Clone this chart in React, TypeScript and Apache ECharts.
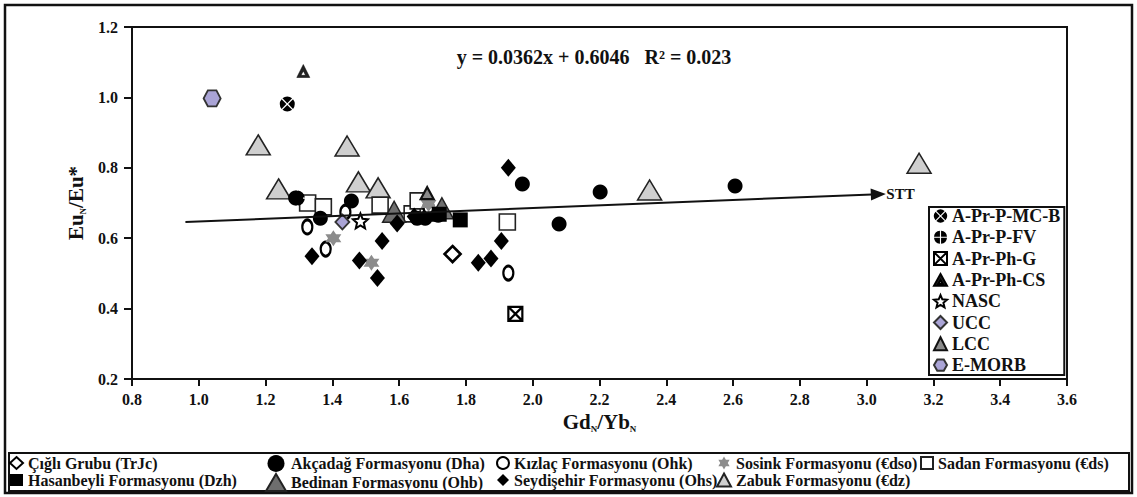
import React, { useEffect, useRef } from 'react';
import * as echarts from 'echarts';

const FONT = '"Liberation Serif","Times New Roman",serif';
const INK = '#111';
const LAV = '#aaa4d6';

// axis ranges / ticks
const xRange = { min: 0.8, max: 3.6, interval: 0.2 };
const yRange = { min: 0.2, max: 1.2, interval: 0.2 };

// sample groups [Gd_N/Yb_N, Eu_N/Eu*]
const cigli = [[1.76, 0.555]];
const hasanbeyli = [[1.783, 0.652], [1.72, 0.668]];
const akcadag = [[1.29, 0.714], [1.364, 0.657], [1.457, 0.706], [1.654, 0.657], [1.678, 0.657], [1.717, 0.665], [1.969, 0.754], [2.079, 0.64], [2.202, 0.731], [2.606, 0.748]];
const bedinan = [[1.585, 0.675], [1.728, 0.685]];
const kizlac = [[1.325, 0.632], [1.38, 0.569], [1.439, 0.674], [1.688, 0.688], [1.927, 0.501]];
const seydisehir = [[1.339, 0.549], [1.481, 0.537], [1.535, 0.487], [1.549, 0.592], [1.594, 0.642], [1.645, 0.662], [1.837, 0.53], [1.875, 0.542], [1.906, 0.592], [1.927, 0.8]];
const sosink = [[1.403, 0.6], [1.517, 0.53], [1.688, 0.697]];
const zabuk = [[1.178, 0.865], [1.239, 0.74], [1.444, 0.862], [1.478, 0.76], [1.537, 0.743], [2.35, 0.737], [3.157, 0.813]];
const sadan = [[1.326, 0.7], [1.373, 0.689], [1.543, 0.694], [1.639, 0.669], [1.657, 0.706], [1.924, 0.646]];

// reference compositions
const mcB = [[1.265, 0.981]];
const fv = [[1.295, 0.714]];
const phG = [[1.948, 0.385]];
const phCS = [[1.313, 1.075]];
const nasc = [[1.484, 0.649]];
const ucc = [[1.43, 0.646]];
const lcc = [[1.684, 0.728]];
const eMorb = [[1.04, 0.997]];

// trend arrow (STT)
const sttLine = [[0.96, 0.646], [3.035, 0.725]];
const equation = 'y = 0.0362x + 0.6046   R² = 0.023';

const refNames = ['A-Pr-P-MC-B', 'A-Pr-P-FV', 'A-Pr-Ph-G', 'A-Pr-Ph-CS', 'NASC', 'UCC', 'LCC', 'E-MORB'];
const legendCols = [
  ['Çığlı Grubu (TrJc)', 'Hasanbeyli Formasyonu (Dzh)'],
  ['Akçadağ Formasyonu (Dha)', 'Bedinan Formasyonu (Ohb)'],
  ['Kızlaç Formasyonu (Ohk)', 'Seydişehir Formasyonu (Ohs)'],
  ['Sosink Formasyonu (€dso)', 'Zabuk Formasyonu (€dz)'],
  ['Sadan Formasyonu (€ds)'],
];

const HEX = 'path://M-10,0 L-5,-8.66 L5,-8.66 L10,0 L5,8.66 L-5,8.66 Z';
const STAR6 = 'path://M0,-10 L2.89,-5 L8.66,-5 L5.77,0 L8.66,5 L2.89,5 L0,10 L-2.89,5 L-8.66,5 L-5.77,0 L-8.66,-5 L-2.89,-5 Z';
const STAR5 = 'path://M0,-10 L2.65,-3.64 L9.51,-3.09 L4.28,1.39 L5.88,8.09 L0,4.5 L-5.88,8.09 L-4.28,1.39 L-9.51,-3.09 L-2.65,-3.64 Z';
const CIRC_X = 'path://M0,-1.2 L-6.43,-7.66 A10,10 0 0,1 6.43,-7.66 Z M1.2,0 L7.66,-6.43 A10,10 0 0,1 7.66,6.43 Z M0,1.2 L6.43,7.66 A10,10 0 0,1 -6.43,7.66 Z M-1.2,0 L-7.66,6.43 A10,10 0 0,1 -7.66,-6.43 Z';
const CIRC_P = 'path://M0.85,-0.85 L0.87,-9.96 A10,10 0 0,1 9.96,-0.87 Z M0.85,0.85 L9.96,0.87 A10,10 0 0,1 0.87,9.96 Z M-0.85,0.85 L-0.87,9.96 A10,10 0 0,1 -9.96,0.87 Z M-0.85,-0.85 L-9.96,-0.87 A10,10 0 0,1 -0.87,-9.96 Z';
const SQ_X = 'path://M-10,-10 L10,-10 L10,10 L-10,10 Z M-10,-10 L10,10 M10,-10 L-10,10';
const TRI_IN = 'path://M0,-10 L10,8 L-10,8 Z M0,-1 L-3.5,5 L3.5,5 Z';

function sc(name: string, data: number[][], symbol: string, size: any, itemStyle: any, z = 2) {
  return { type: 'scatter', name, data, symbol, symbolSize: size, itemStyle: { opacity: 1, ...itemStyle }, z, silent: true };
}

export default function App() {
  const ref = useRef<HTMLDivElement>(null);
  useEffect(() => {
    document.body.style.margin = '0';
    const chart = echarts.init(ref.current!, null, { renderer: 'svg' });
    const txt = { fontFamily: FONT, fontWeight: 'bold', color: INK };
    const colLeft = [9, 265, 496, 716, 920];
    const colIconW = [13, 20, 12, 14, 12];
    const colIconH = [12, 17, 12, 13, 12];
    const option: any = {
      animation: false,
      backgroundColor: '#fff',
      grid: { left: 132, right: 70, top: 27, bottom: 118, show: true, borderColor: INK, borderWidth: 2, backgroundColor: 'transparent' },
      xAxis: {
        type: 'value', ...xRange,
        name: '{a|Gd}{s|N}{a|/Yb}{s|N}', nameLocation: 'middle', nameGap: 29,
        nameTextStyle: {
          rich: {
            a: { ...txt, fontSize: 21, lineHeight: 23 },
            s: { ...txt, fontSize: 9, lineHeight: 9, verticalAlign: 'bottom' },
          },
        },
        axisLine: { lineStyle: { color: INK, width: 2 } },
        axisTick: { length: 7, lineStyle: { color: INK, width: 2 } },
        axisLabel: { ...txt, fontSize: 16, margin: 12, formatter: (v: number) => v.toFixed(1) },
        splitLine: { show: false },
      },
      yAxis: {
        type: 'value', ...yRange,
        name: '{a|Eu}{s|N}{a|/Eu*}', nameLocation: 'middle', nameGap: 36, nameRotate: 90,
        nameTextStyle: {
          rich: {
            a: { ...txt, fontSize: 21, lineHeight: 23 },
            s: { ...txt, fontSize: 9, lineHeight: 9, verticalAlign: 'bottom' },
          },
        },
        axisLine: { lineStyle: { color: INK, width: 2 } },
        axisTick: { length: 8, lineStyle: { color: INK, width: 2 } },
        axisLabel: { ...txt, fontSize: 16, margin: 14, formatter: (v: number) => v.toFixed(1) },
        splitLine: { show: false },
      },
      legend: [
        {
          orient: 'vertical', left: 929, top: 207, data: refNames, selectedMode: false,
          itemWidth: 13, itemHeight: 13, itemGap: 3.3, padding: [0, 4, 1, 4],
          borderColor: INK, borderWidth: 2, backgroundColor: '#fff',
          textStyle: { ...txt, fontSize: 18, lineHeight: 18 },
        },
        ...legendCols.map((col, i) => ({
          orient: 'vertical', left: colLeft[i], top: 455, data: col, selectedMode: false,
          itemWidth: colIconW[i], itemHeight: colIconH[i], itemGap: 1, padding: 0,
          textStyle: { ...txt, fontSize: 16, lineHeight: 16 },
        })),
      ],
      graphic: [
        { type: 'rect', shape: { x: 5, y: 5, width: 1127, height: 488 }, style: { fill: 'none', stroke: INK, lineWidth: 2.5 }, silent: true },
        { type: 'rect', shape: { x: 9, y: 453, width: 1120, height: 38 }, style: { fill: 'none', stroke: INK, lineWidth: 2 }, silent: true },
        { type: 'text', x: 594, y: 57, style: { text: equation, fill: INK, font: `bold 20px ${FONT}`, align: 'center', verticalAlign: 'middle' }, silent: true },
      ],
      series: [
        {
          type: 'scatter', name: 'STT', data: [], silent: true,
          markLine: {
            silent: true, symbol: ['none', 'triangle'], symbolSize: [12, 15],
            lineStyle: { color: INK, width: 2, type: 'solid' },
            label: { show: true, position: 'end', formatter: 'STT', ...txt, fontSize: 15, distance: 8 },
            data: [[{ coord: sttLine[0] }, { coord: sttLine[1] }]],
          },
        },
        sc('Zabuk Formasyonu (€dz)', zabuk, 'triangle', [24, 20], { color: '#cfcfcf', borderColor: '#222', borderWidth: 1.5 }),
        sc('Sadan Formasyonu (€ds)', sadan, 'rect', 16, { color: '#fff', borderColor: '#222', borderWidth: 1.6 }),
        sc('Bedinan Formasyonu (Ohb)', bedinan, 'triangle', [23, 21], { color: '#6e6e6e', borderColor: '#222', borderWidth: 1.5 }),
        sc('Akçadağ Formasyonu (Dha)', akcadag, 'circle', 15, { color: '#000' }),
        sc('Kızlaç Formasyonu (Ohk)', kizlac, 'circle', [10, 14], { color: '#fff', borderColor: '#000', borderWidth: 2.6 }),
        sc('Sosink Formasyonu (€dso)', sosink, STAR6, 16, { color: '#8c8c8c' }),
        sc('Seydişehir Formasyonu (Ohs)', seydisehir, 'diamond', [15, 18], { color: '#000' }),
        sc('Hasanbeyli Formasyonu (Dzh)', hasanbeyli, 'rect', 15, { color: '#000' }),
        sc('Çığlı Grubu (TrJc)', cigli, 'diamond', [16, 16], { color: '#fff', borderColor: '#000', borderWidth: 2.6 }),
        sc('A-Pr-P-MC-B', mcB, CIRC_X, 15, { color: '#000' }, 3),
        sc('A-Pr-P-FV', fv, CIRC_P, 15, { color: '#000' }, 3),
        sc('A-Pr-Ph-G', phG, SQ_X, 14, { color: '#fff', borderColor: '#000', borderWidth: 2.2 }, 3),
        sc('A-Pr-Ph-CS', phCS, TRI_IN, 13, { color: '#222', borderColor: '#000', borderWidth: 0.5 }, 3),
        sc('NASC', nasc, STAR5, 15, { color: '#fff', borderColor: '#000', borderWidth: 2 }, 3),
        sc('UCC', ucc, 'diamond', [14, 15], { color: LAV, borderColor: '#333', borderWidth: 1.8 }, 3),
        sc('LCC', lcc, 'triangle', [13, 12], { color: '#8a8a8a', borderColor: '#111', borderWidth: 2.2 }, 3),
        sc('E-MORB', eMorb, HEX, [17, 16], { color: LAV, borderColor: '#333', borderWidth: 1.8 }, 3),
      ],
    };
    chart.setOption(option);
    return () => chart.dispose();
  }, []);
  return <div ref={ref} style={{ position: 'fixed', left: 0, top: 0, width: 1137, height: 497 }} />;
}
